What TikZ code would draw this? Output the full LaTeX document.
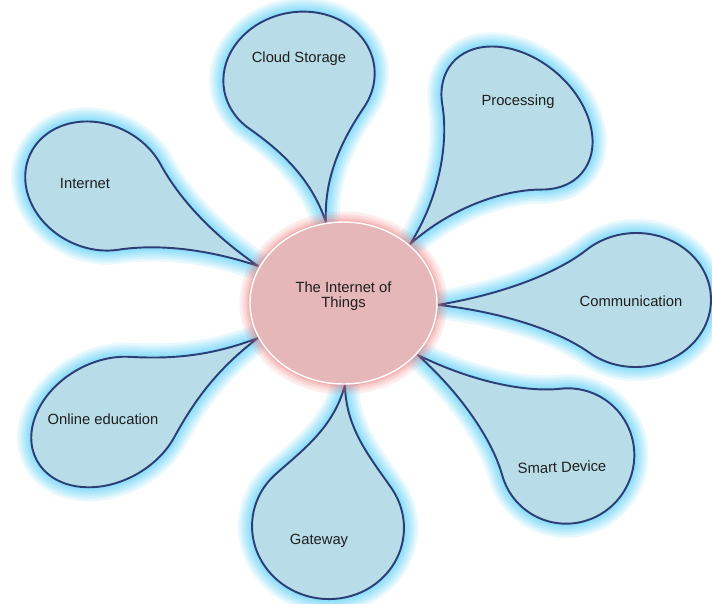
\documentclass[tikz,border=0pt]{standalone}
\usepackage{fontspec}
\setmainfont{Liberation Sans}
\usetikzlibrary{shapes.geometric}

\definecolor{petalfill}{RGB}{184,221,232}
\definecolor{petalline}{RGB}{44,62,120}
\definecolor{petalglow}{RGB}{85,205,245}
\definecolor{hubfill}{RGB}{229,183,184}
\definecolor{hubglow}{RGB}{238,118,118}
\definecolor{labeltext}{RGB}{30,30,30}

% teardrop with its tip at (#1,0), lobe radii #2 (along) and #3 (across)
\newcommand{\petalpath}[3]{(#1,0) .. controls ({#1-0.45*(#1-0.643*#2)},{0.063*(#1-0.643*#2)}) and ({1.026*#2},{0.445*#3}) .. ({0.643*#2},{0.766*#3})
  arc[start angle=50, end angle=310, x radius=#2, y radius=#3]
  .. controls ({1.026*#2},{-0.445*#3}) and ({#1-0.45*(#1-0.643*#2)},{-0.063*(#1-0.643*#2)}) .. (#1,0) -- cycle}

% lobe x/lobe y/direction of tip/tip distance/radius along/radius across
\newcommand{\petallist}{299/-77/280.5/147.5/65/76, 517/-118/229.7/165.3/60/85,
  636/-300/181.4/198/75/67, 567/-456/145.9/180/67/68, 328/-527/83.2/143/72/76,
  107/-422/29.1/172.8/80/60, 97/-186/-26.4/179.8/74/62}

\begin{document}
\begin{tikzpicture}[x=0.02cm, y=0.02cm, line join=round,
  every node/.style={font=\fontsize{8.4}{8.6}\selectfont, text=labeltext},
  petal/.style={fill=petalfill, draw=petalline, line width=1.1pt},
  petal glow/.style={draw=petalglow, opacity=0.14},
  hub/.style={ellipse, minimum width=3.74cm, minimum height=3.24cm, fill=hubfill, draw=white, line width=0.8pt,
    preaction={draw=hubglow, line width=12pt, opacity=0.12},
    preaction={draw=hubglow, line width=9pt, opacity=0.12},
    preaction={draw=hubglow, line width=6.5pt, opacity=0.14},
    preaction={draw=hubglow, line width=4pt, opacity=0.18},
    preaction={draw=hubglow, line width=2pt, opacity=0.25}}]
  \useasboundingbox (0,0) rectangle (712,-603);

  % soft halo first, then the petals themselves
  \foreach \x/\y/\r/\l/\a/\b in \petallist {
    \begin{scope}[shift={(\x,\y)}, rotate=\r]
      \foreach \w in {16,13,10.5,8,6,4,2.5}
        \draw[petal glow, line width=\w pt] \petalpath{\l}{\a}{\b};
    \end{scope}
  }
  \foreach \x/\y/\r/\l/\a/\b in \petallist {
    \begin{scope}[shift={(\x,\y)}, rotate=\r]
      \filldraw[petal] \petalpath{\l}{\a}{\b};
    \end{scope}
  }

  \node[hub] (hub) at (343.5,-303) {};
  \node[align=center] (iot) at (343.5,-296) {The Internet of\\Things};

  \node (cloud) at (299,-59) {Cloud Storage};
  \node (processing) at (518,-102) {Processing};
  \node (communication) at (631,-301) {Communication};
  \node[rotate=2] (smart) at (562,-467) {Smart Device};
  \node (gateway) at (319,-541) {Gateway};
  \node (education) at (103,-419) {Online education};
  \node (internet) at (85,-183) {Internet};
\end{tikzpicture}
\end{document}
